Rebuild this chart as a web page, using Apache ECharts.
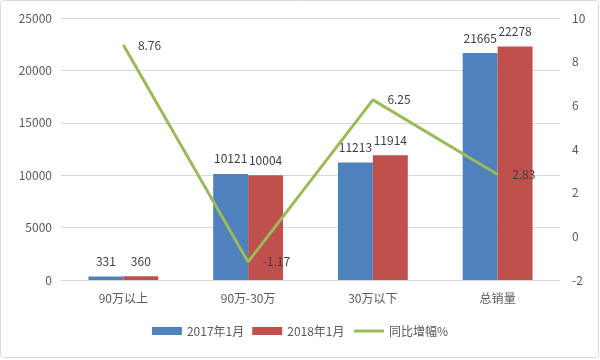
<!DOCTYPE html>
<html><head><meta charset="utf-8">
<script src="https://cdn.jsdelivr.net/npm/echarts@6/dist/echarts.min.js"></script>
<style>html,body{margin:0;padding:0;background:#fff}#c{width:600px;height:360px}</style>
</head><body><div id="c"></div>
<script>
const categories = ['90万以上', '90万-30万', '30万以下', '总销量'];
const sales2017 = [331, 10121, 11213, 21665];
const sales2018 = [360, 10004, 11914, 22278];
const growth = [8.76, -1.17, 6.25, 2.83];
const seriesNames = ['2017年1月', '2018年1月', '同比增幅%'];

const chart = echarts.init(document.getElementById('c'));
const font = '"Noto Sans CJK SC", sans-serif';
const txt = '#595959';
chart.setOption({
  animation: false,
  textStyle: {fontFamily: font},
  graphic: [{type: 'rect', shape: {x: 0.5, y: 0.5, width: 598, height: 357, r: 3}, style: {fill: 'none', stroke: '#d9d9d9', lineWidth: 1}}],
  grid: {left: 61, right: 40, top: 18, bottom: 80},
  legend: {
    bottom: 18, left: 'center', itemWidth: 30, itemHeight: 8, itemGap: 8,
    textStyle: {color: txt, fontSize: 12, fontFamily: font},
    data: [
      {name: seriesNames[0], icon: 'rect'},
      {name: seriesNames[1], icon: 'rect'},
      {name: seriesNames[2], itemStyle: {opacity: 0}, lineStyle: {width: 3, color: '#9bbb59'}}
    ]
  },
  xAxis: {
    type: 'category', data: categories,
    axisLine: {lineStyle: {color: '#d9d9d9'}}, axisTick: {show: false},
    axisLabel: {color: txt, fontSize: 12, margin: 12, fontFamily: font}
  },
  yAxis: [{
    type: 'value', min: 0, max: 25000, interval: 5000,
    axisLine: {show: false}, axisTick: {show: false},
    splitLine: {lineStyle: {color: '#d9d9d9'}},
    axisLabel: {color: txt, fontSize: 12, margin: 9, formatter: v => String(v)}
  }, {
    type: 'value', min: -2, max: 10, interval: 2,
    axisLine: {show: false}, axisTick: {show: false}, splitLine: {show: false},
    axisLabel: {color: txt, fontSize: 12, margin: 12}
  }],
  series: [{
    name: seriesNames[0], type: 'bar', data: sales2017, barGap: '0%', barCategoryGap: '44%',
    itemStyle: {color: '#4f81bd'},
    label: {show: true, position: 'top', color: '#404040', fontSize: 12, distance: 9}
  }, {
    name: seriesNames[1], type: 'bar', data: sales2018,
    itemStyle: {color: '#c0504d'},
    label: {show: true, position: 'top', color: '#404040', fontSize: 12, distance: 9}
  }, {
    name: seriesNames[2], type: 'line', yAxisIndex: 1, data: growth,
    symbol: 'circle', symbolSize: 1, showSymbol: true,
    lineStyle: {color: '#9bbb59', width: 3}, itemStyle: {color: '#9bbb59'},
    label: {show: true, position: 'right', distance: 14, color: '#404040', fontSize: 12}
  }]
});
</script></body></html>
